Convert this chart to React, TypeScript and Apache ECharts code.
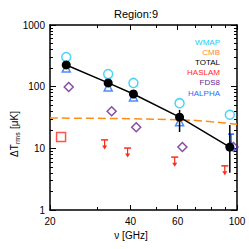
import React, { useEffect, useRef } from "react";
import * as echarts from "echarts";

const chartTitle = "Region:9";
const xAxisName = "ν [GHz]";
const xMajorTicks = [20, 40, 60, 100];
const xMinorTicks = [30, 50, 70, 80, 90];
const yMajorTicks = [1, 10, 100, 1000];
const yMinorTicks = [2, 3, 4, 5, 6, 7, 8, 9, 20, 30, 40, 50, 60, 70, 80, 90, 200, 300, 400, 500, 600, 700, 800, 900];

const wmapFreq = [23, 33, 41, 61, 94];
const wmapVals = [302, 160, 115, 54, 35];
const totalVals = [225, 115, 76, 32, 10.5];
const totalErrFreq = [61, 94];
const totalErrLow = [18.4, 4];
const totalErrHigh = [42, 24];
const halphaFreq = [23, 33, 41, 61, 95];
const halphaVals = [200, 99, 68, 27, 11];
const halphaErrFreq = [95];
const halphaErrLow = [11];
const halphaErrHigh = [17];
const fdsFreq = [23.5, 34, 42, 62.5, 97];
const fdsVals = [99, 40, 22, 10.5, 10.5];
const haslamFreq = [22];
const haslamVals = [15.2];
const haslamLimFreq = [32, 39, 58.5, 90];
const haslamLimVals = [13.7, 10.1, 7.2, 5.2];
const cmbFreq = [20, 40, 60, 70, 80, 90, 100];
const cmbVals = [31, 30.2, 29, 28.3, 27, 25.8, 24.5];

const legendNames = ["WMAP", "CMB", "TOTAL", "HASLAM", "FDS8", "HALPHA"];
const legendColors = ["#1ec8f5", "#ff8c1a", "#000000", "#ff2a1a", "#6a1f8f", "#1e6eff"];

const FONT = "Liberation Sans, Arial, sans-serif";

function pairs(xs: number[], ys: number[]) {
  return xs.map((x, i) => [x, ys[i]]);
}

export default function App() {
  const ref = useRef<HTMLDivElement>(null);
  useEffect(() => {
    if (!ref.current) return;
    const chart = echarts.init(ref.current, null, { renderer: "svg" });
    const lineStyle = { color: "#000", width: 1.5 };
    const fmt = (v: number) => String(Math.round(v));
    const mkX = (pos: string, ticks: number[], len: number, label: boolean, line: boolean) => ({
      type: "log",
      position: pos,
      min: 20,
      max: 100,
      axisLine: { show: line, lineStyle },
      axisTick: { show: true, inside: true, length: len, customValues: ticks, lineStyle: { color: "#000", width: 1 } },
      axisLabel: label
        ? { show: true, customValues: ticks, formatter: fmt, color: "#000", fontSize: 10, fontFamily: FONT, margin: 6 }
        : { show: false },
      splitLine: { show: false },
    });
    const mkY = (pos: string, ticks: number[], len: number, label: boolean, line: boolean) => ({
      type: "log",
      position: pos,
      min: 1,
      max: 1000,
      axisLine: { show: line, lineStyle },
      axisTick: { show: true, inside: true, length: len, customValues: ticks, lineStyle: { color: "#000", width: 1 } },
      axisLabel: label
        ? { show: true, customValues: ticks, formatter: fmt, color: "#000", fontSize: 10, fontFamily: FONT, margin: 5 }
        : { show: false },
      splitLine: { show: false },
    });

    const errRender = (color: string, cap: boolean) => (params: any, api: any) => {
      const x = api.value(0);
      const p1 = api.coord([x, api.value(1)]);
      const p2 = api.coord([x, api.value(2)]);
      const children: any[] = [
        { type: "line", shape: { x1: p1[0], y1: p1[1], x2: p2[0], y2: p2[1] }, style: { stroke: color, lineWidth: 1.5 } },
      ];
      if (cap) {
        children.push({ type: "line", shape: { x1: p2[0] - 3, y1: p2[1], x2: p2[0] + 3, y2: p2[1] }, style: { stroke: color, lineWidth: 1.5 } });
      }
      return { type: "group", children };
    };

    const limitRender = (params: any, api: any) => {
      const p = api.coord([api.value(0), api.value(1)]);
      const c = "#ff2a1a";
      return {
        type: "group",
        children: [
          { type: "line", shape: { x1: p[0] - 3.5, y1: p[1], x2: p[0] + 3.5, y2: p[1] }, style: { stroke: c, lineWidth: 1.5 } },
          { type: "line", shape: { x1: p[0], y1: p[1], x2: p[0], y2: p[1] + 6 }, style: { stroke: c, lineWidth: 1.2 } },
          { type: "polygon", shape: { points: [[p[0] - 2.5, p[1] + 5.5], [p[0] + 2.5, p[1] + 5.5], [p[0], p[1] + 9.5]] }, style: { fill: c } },
        ],
      };
    };

    const openSym = (color: string) => ({ color: "rgba(0,0,0,0)", borderColor: color, borderWidth: 1.5 });

    chart.setOption({
      animation: false,
      grid: { left: 50, right: 12, top: 25, bottom: 39, containLabel: false },
      xAxis: [
        mkX("bottom", xMajorTicks, 5, true, true),
        mkX("bottom", xMinorTicks, 3, false, false),
        mkX("top", xMajorTicks, 5, false, true),
        mkX("top", xMinorTicks, 3, false, false),
      ],
      yAxis: [
        mkY("left", yMajorTicks, 6, true, true),
        mkY("left", yMinorTicks, 3, false, false),
        mkY("right", yMajorTicks, 6, false, true),
        mkY("right", yMinorTicks, 3, false, false),
      ],
      graphic: [
        { type: "text", x: 136, y: 14, style: { text: chartTitle, align: "center", verticalAlign: "middle", fontSize: 11, fontFamily: FONT, fill: "#000" } },
        { type: "text", x: 131, y: 235, style: { text: xAxisName, align: "center", verticalAlign: "middle", fontSize: 10, fontFamily: FONT, fill: "#000" } },
        {
          type: "group",
          x: 14,
          y: 157,
          rotation: Math.PI / 2,
          children: [
            { type: "text", x: 0, y: 0, style: { text: "ΔT", align: "left", verticalAlign: "middle", fontSize: 10, fontFamily: FONT, fill: "#000" } },
            { type: "text", x: 13, y: 3, style: { text: "rms", align: "left", verticalAlign: "middle", fontSize: 7, fontFamily: FONT, fill: "#000" } },
            { type: "text", x: 28, y: 0, style: { text: "[μK]", align: "left", verticalAlign: "middle", fontSize: 10, fontFamily: FONT, fill: "#000" } },
          ],
        },
        ...legendNames.map((n, i) => ({
          type: "text",
          x: 220,
          y: 42 + i * 10.2,
          style: { text: n, align: "right", verticalAlign: "middle", fontSize: 8, fontFamily: FONT, fill: legendColors[i] },
        })),
      ],
      series: [
        {
          type: "line",
          data: pairs(cmbFreq, cmbVals),
          smooth: true,
          showSymbol: false,
          lineStyle: { color: legendColors[1], width: 1.5, type: [8, 4] },
          z: 1,
        },
        {
          type: "scatter",
          data: pairs(haslamFreq, haslamVals),
          symbol: "rect",
          symbolSize: 9,
          itemStyle: openSym(legendColors[3]),
          z: 2,
        },
        {
          type: "custom",
          data: pairs(haslamLimFreq, haslamLimVals),
          encode: { x: 0, y: 1 },
          renderItem: limitRender,
          z: 2,
        },
        {
          type: "scatter",
          data: pairs(fdsFreq, fdsVals),
          symbol: "diamond",
          symbolSize: 9,
          itemStyle: openSym(legendColors[4]),
          z: 2,
        },
        {
          type: "custom",
          data: halphaErrFreq.map((f, i) => [f, halphaErrLow[i], halphaErrHigh[i]]),
          encode: { x: 0, y: [1, 2] },
          renderItem: errRender(legendColors[5], true),
          z: 2,
        },
        {
          type: "scatter",
          data: pairs(halphaFreq, halphaVals),
          symbol: "triangle",
          symbolSize: 8,
          itemStyle: openSym(legendColors[5]),
          z: 2,
        },
        {
          type: "scatter",
          data: pairs(wmapFreq, wmapVals),
          symbol: "circle",
          symbolSize: 9,
          itemStyle: openSym(legendColors[0]),
          z: 3,
        },
        {
          type: "custom",
          data: totalErrFreq.map((f, i) => [f, totalErrLow[i], totalErrHigh[i]]),
          encode: { x: 0, y: [1, 2] },
          renderItem: errRender("#000", false),
          z: 4,
        },
        {
          type: "line",
          data: pairs(wmapFreq, totalVals),
          symbol: "circle",
          symbolSize: 9,
          itemStyle: { color: "#000" },
          lineStyle: { color: "#000", width: 1.5 },
          z: 5,
        },
      ],
    });
    return () => chart.dispose();
  }, []);
  return <div ref={ref} style={{ width: 249, height: 249, position: "absolute", left: 0, top: 0 }} />;
}
